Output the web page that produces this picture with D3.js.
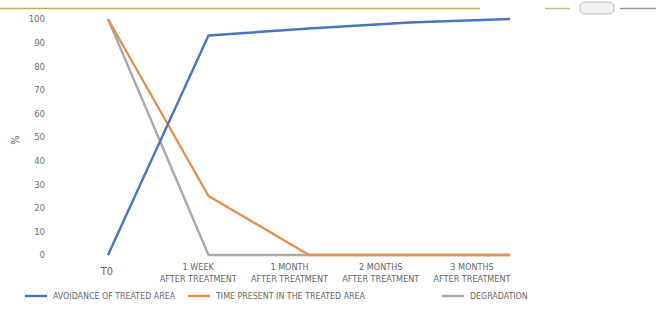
<!DOCTYPE html>
<html>
<head>
<meta charset="utf-8">
<script src="https://cdn.jsdelivr.net/npm/d3@7"></script>
<style>
  body { margin: 0; background: #fff; }
  svg { display: block; font-family: "Liberation Sans Narrow", "DejaVu Sans Condensed", "Roboto", sans-serif; }
</style>
</head>
<body>
<script>
const width = 656
const height = 327

const categories = ["T0", "1 WEEK|AFTER TREATMENT", "1 MONTH|AFTER TREATMENT", "2 MONTHS|AFTER TREATMENT", "3 MONTHS|AFTER TREATMENT"]
const avoidance = [0, 93, 96, 98.5, 100]
const timePresent = [100, 25, 0, 0, 0]
const degradation = [100, 0, 0, 0, 0]
const yTicks = [0, 10, 20, 30, 40, 50, 60, 70, 80, 90, 100]

const series = [
  {name: "AVOIDANCE OF TREATED AREA", values: avoidance, color: "#4a73c0"},
  {name: "TIME PRESENT IN THE TREATED AREA", values: timePresent, color: "#e2914a"},
  {name: "DEGRADATION", values: degradation, color: "#a9a9a9"}
]

const svg = d3.select("body").append("svg")
    .attr("width", width)
    .attr("height", height)

// top strip leftover from the source screenshot
svg.append("line").attr("x1", 0).attr("x2", 480).attr("y1", 8.5).attr("y2", 8.5)
  .attr("stroke", "#c9ad55").attr("stroke-width", 1.5)
svg.append("line").attr("x1", 545).attr("x2", 570).attr("y1", 8.5).attr("y2", 8.5)
  .attr("stroke", "#b9c08a").attr("stroke-width", 1.5)
svg.append("rect").attr("x", 580).attr("y", 2).attr("width", 34).attr("height", 12).attr("rx", 5)
  .attr("fill", "#f2f2f2").attr("stroke", "#bbb")
svg.append("line").attr("x1", 620).attr("x2", 656).attr("y1", 8.5).attr("y2", 8.5)
  .attr("stroke", "#999").attr("stroke-width", 1.5)

const x = d3.scalePoint().domain(categories).range([108, 510])
const xLabel = d3.scalePoint().domain(categories).range([107, 472])
const y = d3.scaleLinear().domain([0, 100]).range([255, 19])

// y tick labels
svg.append("g").selectAll("text")
  .data(yTicks)
  .join("text")
    .attr("x", 45)
    .attr("y", d => y(d))
    .attr("dy", "0.35em")
    .attr("text-anchor", "end")
    .attr("font-size", 9.5)
    .attr("fill", "#6e6e6e")
    .text(d => d)

svg.append("text")
  .attr("transform", `translate(19,${y(50) + 3}) rotate(-90)`)
  .attr("text-anchor", "middle")
  .attr("font-size", 11)
  .attr("fill", "#666")
  .text("%")

// x labels
const xl = svg.append("g").selectAll("text")
  .data(categories)
  .join("text")
    .attr("x", d => xLabel(d))
    .attr("y", d => d.includes("|") ? 270 : 275)
    .attr("text-anchor", "middle")
    .attr("font-size", d => d.includes("|") ? 9 : 11)
    .attr("fill", "#666")
xl.selectAll("tspan")
  .data(d => d.split("|"))
  .join("tspan")
    .attr("x", function() { return this.parentNode.getAttribute("x") })
    .attr("dy", (d, i) => i ? 12 : 0)
    .text(d => d)

const line = d3.line()
  .x((d, i) => x(categories[i]))
  .y(d => y(d))

svg.append("g").selectAll("path")
  .data(series.slice().reverse())
  .join("path")
    .attr("d", d => line(d.values))
    .attr("fill", "none")
    .attr("stroke", d => d.color)
    .attr("stroke-width", 2.4)
    .attr("stroke-linejoin", "round")

// legend
const legendX = [25, 188, 442]
const lg = svg.append("g").selectAll("g")
  .data(series)
  .join("g")
    .attr("transform", (d, i) => `translate(${legendX[i]},296)`)
lg.append("line")
  .attr("x1", 0).attr("x2", 22)
  .attr("stroke", d => d.color)
  .attr("stroke-width", 2.4)
lg.append("text")
  .attr("x", 28)
  .attr("dy", "0.35em")
  .attr("font-size", 8.8)
  .attr("fill", "#666")
  .text(d => d.name)
</script>
</body>
</html>
